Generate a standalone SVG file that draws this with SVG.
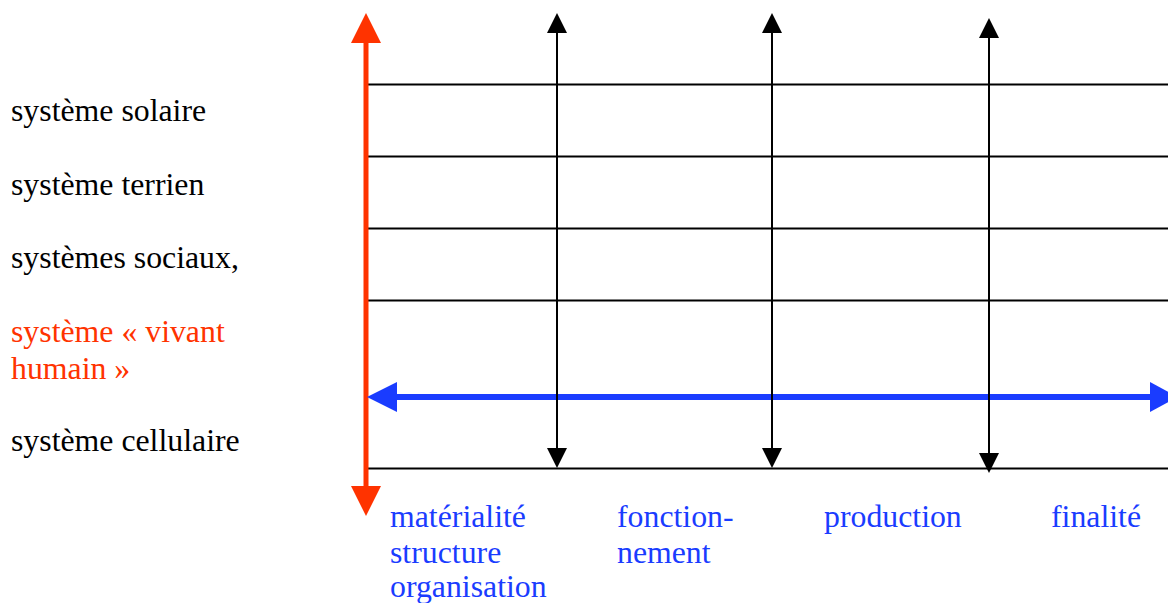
<svg xmlns="http://www.w3.org/2000/svg" width="1168" height="603" viewBox="0 0 1168 603">
<style>
.t{font-family:"Liberation Serif","Times New Roman",serif;font-size:31.8px}
.k{fill:#000}.r{fill:#ff3300}.b{fill:#1a3cff}
.g{stroke:#000;stroke-width:2;fill:none}
</style>
<rect width="1168" height="603" fill="#fff"/>
<g id="connectors">
<g id="grid">
<line class="g" x1="366" y1="84.5" x2="1168" y2="84.5"/>
<line class="g" x1="366" y1="156.5" x2="1168" y2="156.5"/>
<line class="g" x1="366" y1="228.5" x2="1168" y2="228.5"/>
<line class="g" x1="366" y1="300.5" x2="1168" y2="300.5"/>
<line class="g" x1="366" y1="468.5" x2="1168" y2="468.5"/>
</g>
<g id="axis-red">
<line x1="366" y1="40" x2="366" y2="490" stroke="#ff3300" stroke-width="5"/>
<polygon points="366,13 381,43 351,43" fill="#ff3300"/>
<polygon points="366,516 381,486 351,486" fill="#ff3300"/>
</g>
<g id="axis-blue">
<line x1="395" y1="397" x2="1152" y2="397" stroke="#1a3cff" stroke-width="6"/>
<polygon points="367,397 397,382 397,412" fill="#1a3cff"/>
<polygon points="1178,397 1150,382 1150,412" fill="#1a3cff"/>
</g>
<g id="v1">
<line class="g" x1="557" y1="30" x2="557" y2="450"/>
<polygon points="557,13 567,33 547,33"/>
<polygon points="557,468 567,448 547,448"/>
</g>
<g id="v2">
<line class="g" x1="772" y1="30" x2="772" y2="450"/>
<polygon points="772,13 782,33 762,33"/>
<polygon points="772,468 782,448 762,448"/>
</g>
<g id="v3">
<line class="g" x1="989" y1="35" x2="989" y2="455"/>
<polygon points="989,18 999,38 979,38"/>
<polygon points="989,473 999,453 979,453"/>
</g>
</g>
<g id="label-solaire"><text class="t k" x="11" y="121">système solaire</text></g>
<g id="label-terrien"><text class="t k" x="11" y="195">système terrien</text></g>
<g id="label-sociaux"><text class="t k" x="11" y="268">systèmes sociaux,</text></g>
<g id="label-vivant"><text class="t r" x="11" y="342">système « vivant</text><text class="t r" x="11" y="379">humain »</text></g>
<g id="label-cellulaire"><text class="t k" x="11" y="451">système cellulaire</text></g>
<g id="label-materialite"><text class="t b" x="390" y="527">matérialité</text><text class="t b" x="390" y="563">structure</text><text class="t b" x="390" y="597">organisation</text></g>
<g id="label-fonction"><text class="t b" x="617" y="527">fonction-</text><text class="t b" x="617" y="563">nement</text></g>
<g id="label-production"><text class="t b" x="824" y="527">production</text></g>
<g id="label-finalite"><text class="t b" x="1051" y="527">finalité</text></g>
</svg>
